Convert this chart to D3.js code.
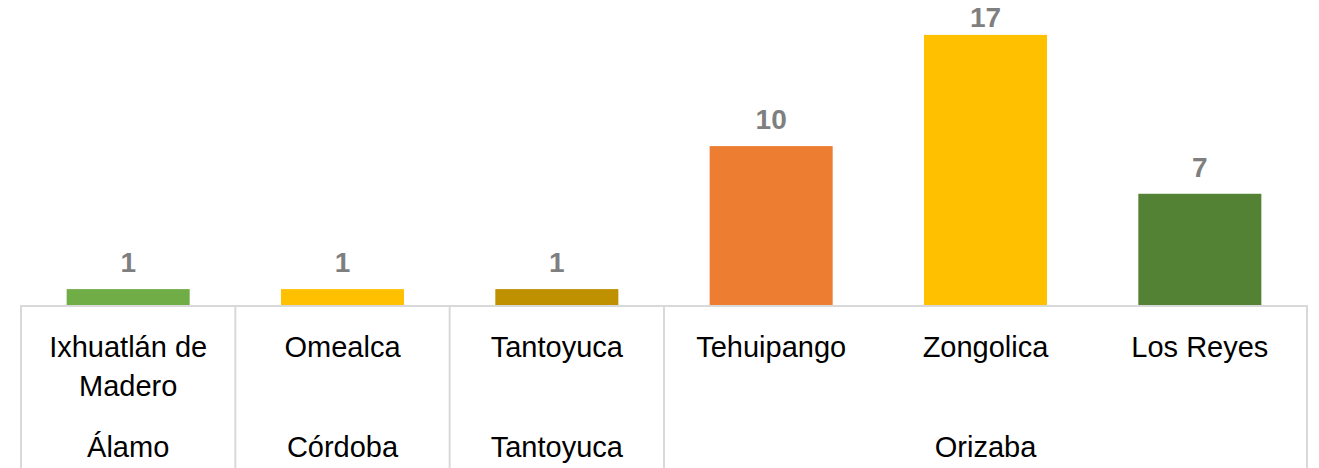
<!DOCTYPE html>
<html>
<head>
<meta charset="utf-8">
<script src="https://cdn.jsdelivr.net/npm/d3@7"></script>
<style>
  html, body { margin: 0; padding: 0; background: #fff; }
  svg { display: block; }
</style>
</head>
<body>
<svg id="chart" width="1319" height="468"></svg>
<script>
// Data
const municipios = ["Ixhuatlán de Madero", "Omealca", "Tantoyuca", "Tehuipango", "Zongolica", "Los Reyes"];
const regiones   = ["Álamo", "Córdoba", "Tantoyuca", "Orizaba", "Orizaba", "Orizaba"];
const valores    = [1, 1, 1, 10, 17, 7];
const colores    = ["#70ad47", "#ffc000", "#bf9000", "#ed7d31", "#ffc000", "#548235"];
// wrapped label lines for the first axis level
const etiquetas  = [["Ixhuatlán de", "Madero"], ["Omealca"], ["Tantoyuca"], ["Tehuipango"], ["Zongolica"], ["Los Reyes"]];

const svg = d3.select("#chart");
const W = 1319, H = 468;
const left = 21, right = 1307, base = 305;
const font = "'Liberation Sans', Arial, sans-serif";

const x = d3.scaleBand().domain(d3.range(municipios.length))
  .range([left, right]).paddingInner(0.426).paddingOuter(0.213);
const y = d3.scaleLinear().domain([0, 18]).range([base, base - 286]);
const step = x.step();
const gap = (step - x.bandwidth()) / 2;

// Bars
svg.append("g").selectAll("rect").data(valores).join("rect")
  .attr("x", (d, i) => x(i))
  .attr("y", d => y(d))
  .attr("width", x.bandwidth())
  .attr("height", d => y(0) - y(d))
  .attr("fill", (d, i) => colores[i]);

// Value labels (kept inside the chart area at the top)
svg.append("g").selectAll("text").data(valores).join("text")
  .attr("x", (d, i) => x(i) + x.bandwidth() / 2)
  .attr("y", d => Math.max(y(d) - 17, 27))
  .attr("text-anchor", "middle")
  .attr("font-family", font)
  .attr("font-weight", "bold")
  .attr("font-size", 28)
  .attr("fill", "#7f7f7f")
  .text(d => d);

// Axis line
const axisColor = "#d9d9d9";
svg.append("line")
  .attr("x1", left).attr("x2", right)
  .attr("y1", base + 1).attr("y2", base + 1)
  .attr("stroke", axisColor).attr("stroke-width", 2);

// Group boundaries
const groups = [];
regiones.forEach((r, i) => {
  if (i === 0 || regiones[i - 1] !== r) groups.push({ name: r, start: i, end: i });
  else groups[groups.length - 1].end = i;
});
const bounds = [x(0) - gap].concat(groups.map(g => x(g.end) + x.bandwidth() + gap));
svg.append("g").selectAll("line").data(bounds).join("line")
  .attr("x1", d => d).attr("x2", d => d)
  .attr("y1", base).attr("y2", H)
  .attr("stroke", axisColor).attr("stroke-width", 2);

// First level labels
const lvl1 = svg.append("g").attr("font-family", font).attr("font-size", 29).attr("fill", "#000");
etiquetas.forEach((lines, i) => {
  const t = lvl1.append("text")
    .attr("x", x(i) + x.bandwidth() / 2)
    .attr("y", 357)
    .attr("text-anchor", "middle");
  lines.forEach((ln, j) => {
    t.append("tspan").attr("x", x(i) + x.bandwidth() / 2).attr("dy", j === 0 ? 0 : 39).text(ln);
  });
});

// Second level labels
svg.append("g").selectAll("text").data(groups).join("text")
  .attr("x", g => (x(g.start) + x(g.end) + x.bandwidth()) / 2)
  .attr("y", 457)
  .attr("text-anchor", "middle")
  .attr("font-family", font)
  .attr("font-size", 29)
  .attr("fill", "#000")
  .text(g => g.name);
</script>
</body>
</html>
